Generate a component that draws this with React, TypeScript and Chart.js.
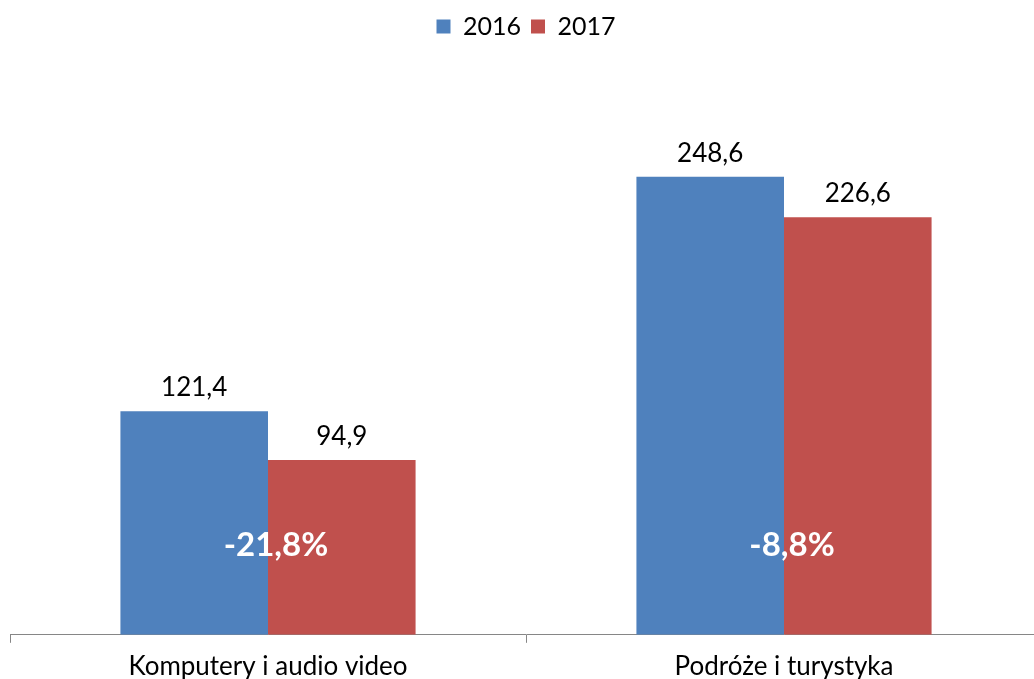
import React, { useEffect, useRef } from "react";
import { Chart, registerables } from "chart.js";

Chart.register(...registerables);

const categories = ["Komputery i audio video", "Podróże i turystyka"];
const series2016 = [121.4, 248.6];
const series2017 = [94.9, 226.6];
const changeLabels = ["-21,8%", "-8,8%"];
const seriesNames = ["2016", "2017"];

const FONT = "Lato, 'Open Sans', sans-serif";

const fmt = (v: number) => v.toFixed(1).replace(".", ",");

const labelPlugin = {
  id: "valueLabels",
  afterDatasetsDraw(chart: any) {
    const ctx = chart.ctx;
    ctx.save();
    ctx.textAlign = "center";
    ctx.textBaseline = "alphabetic";
    ctx.fillStyle = "#000";
    ctx.font = `26px ${FONT}`;
    chart.data.datasets.forEach((ds: any, di: number) => {
      const meta = chart.getDatasetMeta(di);
      meta.data.forEach((bar: any, i: number) => {
        ctx.fillText(fmt(ds.data[i]), bar.x, bar.y - 15);
      });
    });
    const xScale = chart.scales.x;
    const yBottom = chart.chartArea.bottom;
    ctx.fillStyle = "#fff";
    ctx.font = `bold 33px ${FONT}`;
    ctx.textBaseline = "middle";
    changeLabels.forEach((t, i) => {
      const x = xScale.getPixelForValue(i);
      ctx.fillText(t, x + 8, yBottom - 89);
    });
    ctx.restore();
  },
};

export default function App() {
  const ref = useRef<HTMLCanvasElement>(null);
  useEffect(() => {
    document.body.style.margin = "0";
    const chart = new Chart(ref.current!, {
      type: "bar",
      data: {
        labels: categories,
        datasets: [
          { label: seriesNames[0], data: series2016, backgroundColor: "#4F81BD", borderWidth: 0 },
          { label: seriesNames[1], data: series2017, backgroundColor: "#C0504D", borderWidth: 0 },
        ],
      },
      options: {
        animation: false,
        responsive: false,
        layout: { padding: { left: 10, right: 8, top: 4, bottom: 0 } },
        datasets: { bar: { categoryPercentage: 0.572, barPercentage: 1 } },
        plugins: {
          legend: {
            position: "top",
            labels: {
              boxWidth: 14,
              boxHeight: 14,
              color: "#000",
              font: { family: FONT, size: 25 },
              padding: 10,
            },
          },
          tooltip: { enabled: false },
        },
        scales: {
          x: {
            offset: true,
            afterFit: (scale: any) => {
              scale.height -= 11;
            },
            grid: {
              offset: true,
              drawOnChartArea: false,
              drawTicks: true,
              tickLength: 8,
              color: "#868686",
            },
            border: { color: "#868686", width: 1 },
            ticks: { color: "#000", font: { family: FONT, size: 26 }, padding: 8 },
          },
          y: {
            display: false,
            min: 0,
            max: 318,
          },
        },
      },
      plugins: [labelPlugin],
    });
    return () => chart.destroy();
  }, []);
  return (
    <div style={{ width: 1034, height: 679, overflow: "hidden", position: "relative" }}>
      <canvas ref={ref} width={1050} height={679} style={{ position: "absolute", left: 0, top: 0 }} />
    </div>
  );
}
